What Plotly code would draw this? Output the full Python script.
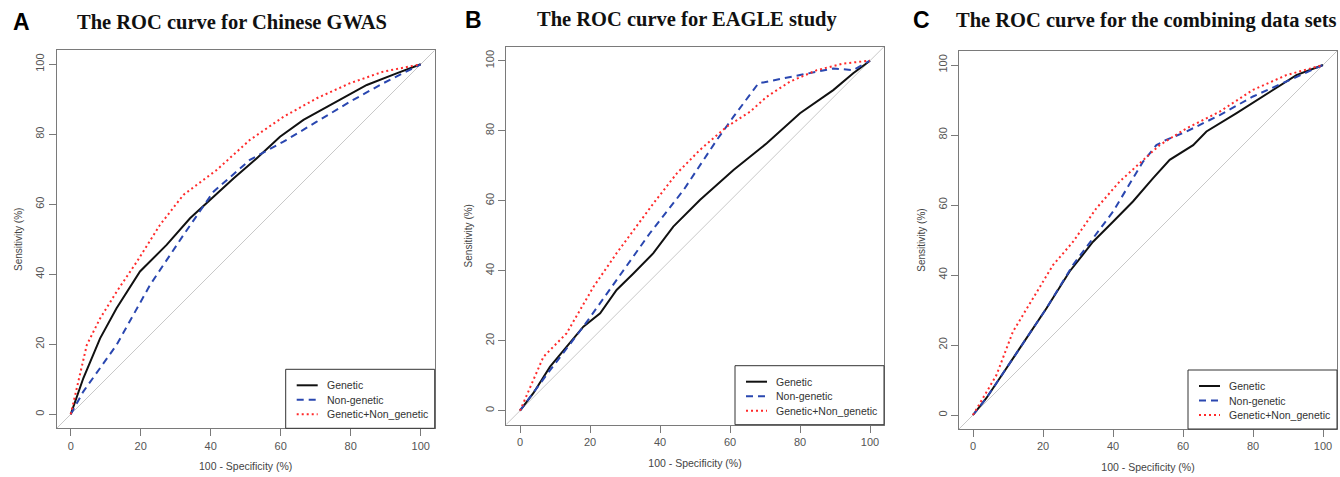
import plotly.graph_objects as go

W, H = 1340, 477

# ---------------- data ----------------
# Panel A: Chinese GWAS
a_gen_x = [0, 3.6, 8.4, 13.1, 19.8, 27.4, 34.1, 39.8, 46.5, 53.1, 59.8, 66.5, 75.0, 84.6, 93.1, 100]
a_gen_y = [0, 10.3, 21.7, 30.3, 40.8, 48.4, 56.0, 61.2, 67.4, 73.1, 79.3, 84.1, 88.9, 94.1, 97.4, 100]
a_non_x = [0, 3.6, 13.1, 22.7, 32.2, 40.8, 51.2, 60.8, 70.3, 79.8, 89.3, 100]
a_non_y = [0, 6.5, 19.8, 37.0, 51.2, 63.6, 72.7, 77.9, 83.6, 89.3, 94.6, 100]
a_com_x = [0, 2.7, 4.6, 8.4, 13.1, 18.9, 25.5, 32.2, 41.7, 51.2, 60.8, 70.3, 79.8, 89.3, 100]
a_com_y = [0, 12.2, 19.8, 27.4, 35.0, 43.6, 54.1, 62.7, 69.8, 78.4, 85.0, 90.3, 94.6, 97.9, 100]

# Panel B: EAGLE study
b_gen_x = [0, 3.8, 8.6, 13.3, 18.1, 22.9, 27.6, 32.4, 38.1, 43.8, 51.4, 61.0, 70.5, 80.0, 89.5, 95.2, 100]
b_gen_y = [0, 5.0, 12.6, 18.3, 24.0, 27.8, 34.5, 39.2, 45.0, 52.6, 60.2, 68.8, 76.4, 85.0, 91.6, 96.4, 100]
b_non_x = [0, 8.6, 18.1, 27.6, 37.1, 46.7, 56.2, 61.0, 68.1, 80.0, 89.5, 95.2, 100]
b_non_y = [0, 11.6, 24.0, 37.3, 50.7, 63.0, 77.3, 84.0, 93.5, 95.9, 97.8, 97.3, 100]
b_com_x = [0, 6.7, 13.3, 21.0, 27.6, 32.4, 38.1, 44.8, 51.4, 59.0, 65.7, 70.5, 77.1, 84.8, 92.4, 100]
b_com_y = [0, 15.4, 22.1, 35.4, 45.0, 51.6, 59.2, 67.8, 74.5, 81.1, 85.4, 89.7, 94.0, 97.3, 99.2, 100]

# Panel C: combining data sets
c_gen_x = [0, 3.8, 9.5, 15.2, 21.0, 27.6, 34.3, 40.0, 45.7, 51.4, 56.2, 62.9, 66.7, 75.2, 84.8, 92.4, 100]
c_gen_y = [0, 4.8, 13.3, 21.9, 30.5, 41.0, 49.5, 55.2, 61.0, 67.6, 72.9, 77.1, 81.0, 86.2, 92.4, 97.1, 100]
c_non_x = [0, 3.8, 9.5, 15.2, 21.0, 28.6, 34.3, 40.0, 45.7, 48.6, 52.4, 55.2, 61.0, 70.5, 80.0, 89.5, 100]
c_non_y = [0, 4.8, 13.3, 21.9, 30.5, 42.9, 50.5, 58.1, 67.6, 72.4, 77.1, 78.6, 81.0, 85.7, 91.0, 95.2, 100]
c_com_x = [0, 6.7, 11.4, 17.1, 22.9, 28.6, 35.2, 41.9, 46.7, 53.3, 61.0, 70.5, 80.0, 89.5, 100]
c_com_y = [0, 11.4, 23.8, 33.3, 42.9, 49.5, 59.0, 66.7, 71.0, 77.1, 81.9, 86.7, 92.9, 97.1, 100]

tick_vals = [0, 20, 40, 60, 80, 100]
tick_text = ["0", "20", "40", "60", "80", "100"]
series_names = ["Genetic", "Non-genetic", "Genetic+Non_genetic"]
titles = ["The ROC curve for Chinese GWAS", "The ROC curve for EAGLE study",
          "The ROC curve for the combining data sets"]
letters = ["A", "B", "C"]

# ---------------- styles ----------------
styles = [
    dict(color="#111111", width=2, dash="solid"),
    dict(color="#2a47b0", width=2, dash="7px,5px"),
    dict(color="#ff2a2a", width=2, dash="2px,3px"),
]

# plot boxes in pixels (left, right, top, bottom)
boxes = [(56.7, 434.7, 50.3, 428.3), (506, 884, 46.7, 424.7), (959, 1337, 51, 429)]
title_pos = [(232, 22), (687, 20), (1146, 21)]
letter_pos = [(21, 22), (473, 20), (921, 20)]

panels = [
    [(a_gen_x, a_gen_y), (a_non_x, a_non_y), (a_com_x, a_com_y)],
    [(b_gen_x, b_gen_y), (b_non_x, b_non_y), (b_com_x, b_com_y)],
    [(c_gen_x, c_gen_y), (c_non_x, c_non_y), (c_com_x, c_com_y)],
]

fig = go.Figure()
shapes, annotations = [], []

def px(x):
    return x / W

def py(y):
    return 1 - y / H

AX_COLOR = "#7a7a7a"
TXT_COLOR = "#444444"
for i, (panel, box) in enumerate(zip(panels, boxes)):
    sfx = "" if i == 0 else str(i + 1)
    xa, ya = "x" + sfx, "y" + sfx
    # diagonal reference
    shapes.append(dict(type="line", xref=xa, yref=ya, x0=-4, y0=-4, x1=104, y1=104,
                       line=dict(color="#c8c8c8", width=1), layer="below"))
    for (xs, ys), st, nm in zip(panel, styles, series_names):
        fig.add_trace(go.Scatter(x=xs, y=ys, mode="lines", name=nm, line=st,
                                 xaxis=xa, yaxis=ya, showlegend=False))
    l, r, t, b = box
    axis_common = dict(range=[-4, 104], tickvals=tick_vals, ticktext=tick_text,
                       showgrid=False, zeroline=False, showline=True, mirror=True,
                       linecolor=AX_COLOR, linewidth=1, ticks="outside", ticklen=7,
                       tickcolor=AX_COLOR, tickwidth=1, automargin=False,
                       tickfont=dict(family="Liberation Sans, Arial", size=11, color="#555555"))
    fig.update_layout(**{
        "xaxis" + sfx: dict(axis_common, domain=[px(l), px(r)], anchor=ya,
                            title=dict(text="100 - Specificity (%)", standoff=12,
                                       font=dict(family="Liberation Sans, Arial", size=10.5, color=TXT_COLOR))),
        "yaxis" + sfx: dict(axis_common, domain=[py(b), py(t)], anchor=xa, tickangle=-90,
                            title=dict(text="Sensitivity (%)", standoff=9,
                                       font=dict(family="Liberation Sans, Arial", size=10, color=TXT_COLOR))),
    })
    # legend box (bottom-right of plot region)
    lw, lh = 149, 59
    lx0, ly0 = r - lw, b - lh
    shapes.append(dict(type="rect", xref="paper", yref="paper",
                       x0=px(lx0), x1=px(r), y0=py(b), y1=py(ly0),
                       line=dict(color="#333333", width=1), fillcolor="white"))
    for k, (st, nm) in enumerate(zip(styles, series_names)):
        yy = ly0 + 16 + 14.5 * k
        shapes.append(dict(type="line", xref="paper", yref="paper",
                           x0=px(lx0 + 11), x1=px(lx0 + 32), y0=py(yy), y1=py(yy),
                           line=st))
        annotations.append(dict(text=nm, xref="paper", yref="paper", x=px(lx0 + 39), y=py(yy),
                                xanchor="left", yanchor="middle", showarrow=False,
                                font=dict(family="Liberation Sans, Arial", size=10.5, color="#333333")))
    tx, ty = title_pos[i]
    annotations.append(dict(text="<b>" + titles[i] + "</b>", xref="paper", yref="paper",
                            x=px(tx), y=py(ty), xanchor="center", yanchor="middle", showarrow=False,
                            font=dict(family="Liberation Serif, Times New Roman", size=20.5, color="#111111")))
    lxp, lyp = letter_pos[i]
    annotations.append(dict(text="<b>" + letters[i] + "</b>", xref="paper", yref="paper",
                            x=px(lxp), y=py(lyp), xanchor="center", yanchor="middle", showarrow=False,
                            font=dict(family="Liberation Sans, Arial", size=23, color="#000000")))

fig.update_layout(width=W, height=H, margin=dict(l=0, r=0, t=0, b=0),
                  paper_bgcolor="white", plot_bgcolor="white",
                  shapes=shapes, annotations=annotations, showlegend=False)

fig.write_html("out.html", config={"displayModeBar": False},
               post_script="document.body.style.margin='0';document.body.style.overflow='hidden';")
